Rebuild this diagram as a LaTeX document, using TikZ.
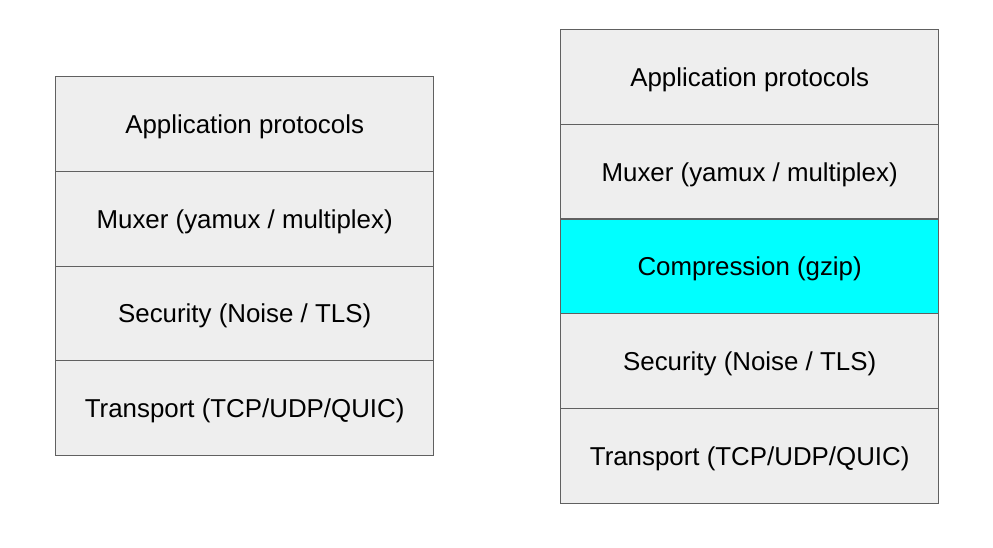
\documentclass[tikz,border=0pt]{standalone}
\usepackage{fontspec}
\setmainfont{Liberation Sans}
\definecolor{boxfill}{HTML}{EEEEEE}
\definecolor{boxline}{HTML}{606060}
\definecolor{cyanfill}{HTML}{00FFFF}
\begin{document}
\begin{tikzpicture}[x=0.75pt,y=-0.75pt,
  layer/.style={draw=boxline,line width=1pt,fill=boxfill,minimum width=378*0.75pt,minimum height=94.8*0.75pt,inner sep=0pt,font=\fontsize{19.4}{22}\selectfont,anchor=north west,text depth=0pt},
  hot/.style={layer,fill=cyanfill}]
\useasboundingbox[fill=white] (0,0) rectangle (993,547);
% left stack
\node[layer] (l1) at (55,76) {Application protocols};
\node[layer] (l2) at (55,171) {Muxer (yamux / multiplex)};
\node[layer] (l3) at (55,265.5) {Security (Noise / TLS)};
\node[layer] (l4) at (55,360) {Transport (TCP/UDP/QUIC)};
% right stack
\node[layer] (r1) at (560,29) {Application protocols};
\node[layer] (r2) at (560,123.7) {Muxer (yamux / multiplex)};
\node[hot] (r3) at (560,218.4) {Compression (gzip)};
\node[layer] (r4) at (560,313.1) {Security (Noise / TLS)};
\node[layer] (r5) at (560,407.8) {Transport (TCP/UDP/QUIC)};
\end{tikzpicture}
\end{document}
